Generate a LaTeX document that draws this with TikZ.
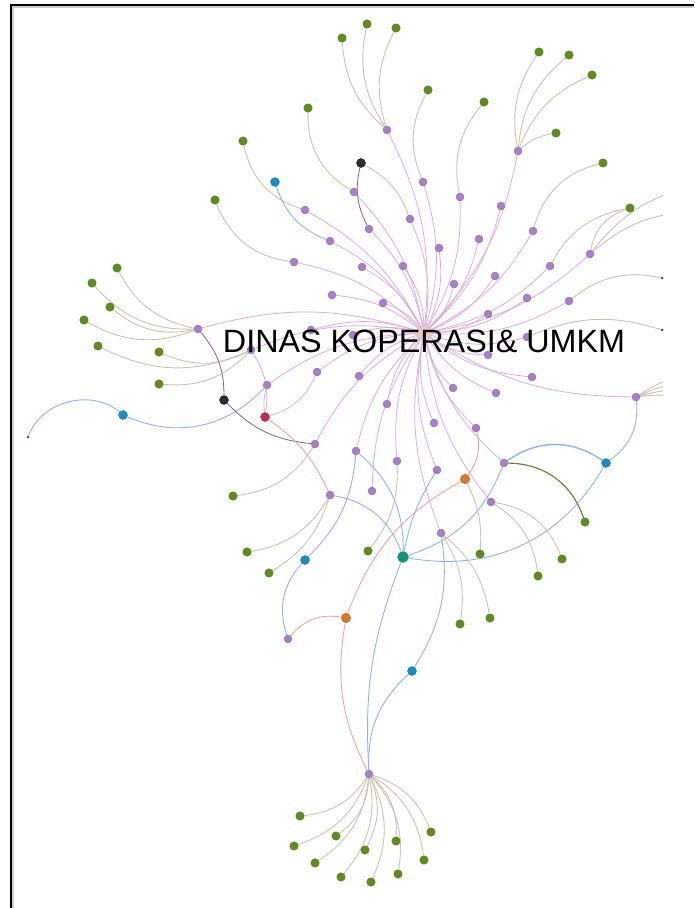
\documentclass[tikz,border=0pt]{standalone}
\usepackage{fontspec}
\setmainfont{Liberation Sans}
\pgfdeclarelayer{bg}
\pgfsetlayers{bg,main}
\definecolor{cpur}{RGB}{168,128,200}
\definecolor{cgrn}{RGB}{94,140,30}
\definecolor{cblu}{RGB}{30,140,190}
\definecolor{cblk}{RGB}{45,45,45}
\definecolor{cred}{RGB}{190,45,75}
\definecolor{corg}{RGB}{215,118,40}
\definecolor{ctea}{RGB}{25,150,120}
\definecolor{chub}{RGB}{232,200,192}
\definecolor{epk}{RGB}{220,170,220}
\definecolor{egr}{RGB}{196,196,176}
\definecolor{ebl}{RGB}{145,178,232}
\definecolor{erd}{RGB}{238,155,155}
\definecolor{edk}{RGB}{120,105,130}
\definecolor{eol}{RGB}{120,125,70}
\begin{document}
\begin{tikzpicture}[x=1pt,y=-1pt,
  dot/.style={circle,inner sep=0pt,minimum size=8pt,line width=0.3pt},
  np/.style={dot,fill=cpur,draw=cpur!80!black},
  ng/.style={dot,fill=cgrn,draw=cgrn!80!black,minimum size=8.5pt},
  nb/.style={dot,fill=cblu,draw=cblu!80!black,minimum size=9pt},
  nk/.style={dot,fill=cblk,draw=black,minimum size=9pt},
  nr/.style={dot,fill=cred,draw=cred!80!black,minimum size=9pt},
  no/.style={dot,fill=corg,draw=corg!80!black,minimum size=9.5pt},
  nt/.style={dot,fill=ctea,draw=ctea!80!black,minimum size=11pt},
  ntiny/.style={dot,fill=cblk,minimum size=2.5pt},
  epink/.style={draw=epk,line width=0.8pt},
  egray/.style={draw=egr,line width=0.9pt},
  eblue/.style={draw=ebl,line width=0.9pt},
  ered/.style={draw=erd,line width=0.8pt},
  edark/.style={draw=edk,line width=0.8pt},
  eolive/.style={draw=eol,line width=1.2pt}]
\useasboundingbox (0,0) rectangle (694,908);
% frame
\draw[line width=2pt,gray!40] (12.5,908) -- (12.5,6.5) -- (694,6.5);
\draw[line width=1.3pt,black] (11,908) -- (11,5) -- (694,5);

% hub
\node[dot,fill=chub,draw=chub!85!black,minimum size=15pt] (hub) at (424,333) {};
% top purples
\node[np] (p1) at (387,130) {};
\node[np] (p2) at (518,151) {};
\node[np] (p3) at (423,182) {};
\node[np] (p4) at (460,197) {};
\node[np] (p5) at (501,206) {};
\node[np] (p6) at (354,192) {};
\node[np] (p7) at (305,210) {};
\node[np] (p8) at (410,219) {};
\node[np] (p9) at (369,229) {};
\node[np] (p10) at (330,241) {};
\node[np] (p11) at (479,239) {};
\node[np] (p12) at (439,248) {};
\node[np] (p13) at (533,231) {};
\node[np] (p14) at (590,254) {};
\node[np] (p15) at (550,266) {};
\node[np] (p16) at (294,262) {};
\node[np] (p17) at (362,267) {};
\node[np] (p18) at (403,266) {};
\node[np] (p19) at (495,276) {};
\node[np] (p20) at (454,284) {};
\node[np] (p21) at (332,295) {};
\node[np] (p22) at (527,298) {};
\node[np] (p23) at (569,301) {};
% middle purples
\node[np] (q1) at (383,303) {};
\node[np] (q2) at (488,314) {};
\node[np] (q3) at (488,355) {};
\node[np] (q4) at (527,337) {};
\node[np] (q5) at (311,330) {};
\node[np] (q6) at (353,335) {};
\node[np] (qd) at (251,350) {};
\node[np] (pl) at (198,329) {};
\node[np] (q7) at (317,372) {};
\node[np] (q8) at (359,376) {};
\node[np] (q9) at (453,388) {};
\node[np] (q10) at (496,393) {};
\node[np] (q11) at (532,377) {};
\node[np] (q12) at (267,385) {};
\node[np] (q13) at (387,404) {};
\node[np] (q14) at (434,423) {};
\node[np] (q15) at (476,428) {};
\node[np] (q16) at (636,397) {};
\node[np] (q17) at (315,444) {};
\node[np] (q18) at (356,451) {};
\node[np] (q19) at (397,461) {};
\node[np] (q20) at (437,470) {};
\node[np] (q21) at (504,463) {};
\node[np] (q22) at (330,495) {};
\node[np] (q23) at (372,491) {};
\node[np] (q24) at (491,502) {};
\node[np] (q25) at (441,533) {};
\node[np] (r1) at (288,639) {};
\node[np] (bh) at (369,774) {};
% greens
\node[ng] (g1) at (342,38) {};
\node[ng] (g2) at (367,24) {};
\node[ng] (g3) at (396,28) {};
\node[ng] (g4) at (428,90) {};
\node[ng] (g5) at (484,102) {};
\node[ng] (g6) at (539,52) {};
\node[ng] (g7) at (569,55) {};
\node[ng] (g8) at (592,75) {};
\node[ng] (g9) at (556,133) {};
\node[ng] (g10) at (603,163) {};
\node[ng] (g11) at (630,208) {};
\node[ng] (g12) at (308,108) {};
\node[ng] (g13) at (243,141) {};
\node[ng] (g14) at (215,200) {};
\node[ng] (l1) at (117,268) {};
\node[ng] (l2) at (92,283) {};
\node[ng] (l3) at (110,307) {};
\node[ng] (l4) at (84,320) {};
\node[ng] (l5) at (98,346) {};
\node[ng] (l6) at (159,352) {};
\node[ng] (l7) at (159,384) {};
\node[ng] (m1) at (233,496) {};
\node[ng] (m2) at (247,552) {};
\node[ng] (m3) at (269,573) {};
\node[ng] (m4) at (368,551) {};
\node[ng] (m5) at (480,554) {};
\node[ng] (m6) at (585,522) {};
\node[ng] (m7) at (562,559) {};
\node[ng] (m8) at (538,576) {};
\node[ng] (m9) at (460,624) {};
\node[ng] (m10) at (490,618) {};
\node[ng] (b1) at (300,816) {};
\node[ng] (b2) at (294,846) {};
\node[ng] (b3) at (336,836) {};
\node[ng] (b4) at (315,863) {};
\node[ng] (b5) at (365,850) {};
\node[ng] (b6) at (341,877) {};
\node[ng] (b7) at (371,882) {};
\node[ng] (b8) at (396,841) {};
\node[ng] (b9) at (398,874) {};
\node[ng] (b10) at (424,860) {};
\node[ng] (b11) at (431,832) {};
% coloured
\node[nk] (kt) at (361,163) {};
\node[nb] (bt) at (275,182) {};
\node[nk] (k2) at (224,400) {};
\node[nb] (bl) at (123,415) {};
\node[ntiny] (tiny) at (28,437) {};
\node[nr] (rd) at (265,417) {};
\node[nb] (br) at (606,463) {};
\node[no] (or1) at (465,479) {};
\node[nt] (tl) at (403,557) {};
\node[nb] (bm) at (305,560) {};
\node[no] (or2) at (346,618) {};
\node[nb] (bb) at (412,671) {};
\node[ntiny] (x1) at (662,278) {};
\node[ntiny] (x2) at (662,330) {};
\coordinate (o1) at (700,185);
\coordinate (o2) at (700,212);
\coordinate (o3) at (700,372);
\coordinate (o4) at (700,382);
\coordinate (o5) at (700,392);
\coordinate (o6) at (700,402);

\begin{pgfonlayer}{bg}
\begin{scope}
\clip (11,5) rectangle (663,908);
% hub edges
\foreach \t in {p1,p2,p3,p4,p5,p6,p7,p8,p9,p10,p11,p12,p13,p14,p15,p16,p17,p18,p19,p20,p21,p22,p23,
  q1,q2,q3,q4,q5,q6,qd,pl,q7,q8,q9,q10,q11,q12,q13,q14,q15,q16,q17,q18,q19,q20,q21,q23,q24,q25}
  \draw[epink] (hub) to[bend right=16] (\t);
% green fans
\foreach \t in {g1,g2,g3} \draw[egray] (p1) to[bend left=22] (\t);
\foreach \t in {g6,g7,g8} \draw[egray] (p2) to[bend left=22] (\t);
\draw[egray] (p2) to[bend left=15] (g9);
\draw[egray] (p3) to[bend left=25] (g4);
\draw[egray] (p4) to[bend left=25] (g5);
\draw[egray] (p6) to[bend left=30] (g12);
\draw[egray] (p7) to[bend left=30] (g13);
\draw[egray] (p16) to[bend left=30] (g14);
\draw[egray] (p13) to[bend left=30] (g10);
\draw[egray] (p14) to[bend left=30] (g11);
\draw[egray] (p15) to[bend left=25] (g11);
\draw[egray] (p14) to[bend left=20] (o1);
\draw[egray] (p14) to[bend left=20] (o2);
\draw[egray] (p23) to[bend left=25] (x1);
\draw[egray] (q4) to[bend left=20] (x2);
\foreach \t in {o3,o4,o5,o6} \draw[egray] (q16) to[bend left=12] (\t);
\foreach \t in {l1,l2,l3,l4} \draw[egray] (pl) to[bend left=25] (\t);
\foreach \t in {l5,l6,l7} \draw[egray] (qd) to[bend left=25] (\t);
\foreach \t in {b1,b2,b3,b4,b5,b6,b7,b8,b9,b10,b11} \draw[egray] (bh) to[bend left=25] (\t);
% other edges
\draw[edark] (kt) to[bend right=20] (p9);
\draw[egray] (kt) to[bend left=20] (p8);
\draw[eblue] (bt) to[bend right=25] (p10);
\draw[eblue] (bl) to[bend right=55] (tiny);
\draw[eblue] (bl) to[bend right=35] (q12);
\draw[edark] (pl) to[bend left=20] (k2);
\draw[edark] (k2) to[bend right=20] (q17);
\draw[epink] (qd) to[bend left=20] (rd);
\draw[epink] (q12) to[bend right=10] (rd);
\draw[epink] (rd) to[bend right=25] (q7);
\draw[ered] (rd) to[bend left=15] (q22);
\draw[egray] (q17) to[bend left=25] (m1);
\draw[egray] (q22) to[bend left=25] (m2);
\draw[egray] (q22) to[bend left=20] (m3);
\draw[eblue] (bm) to[bend right=20] (q18);
\draw[eblue] (bm) to[bend right=30] (r1);
\draw[egray] (q19) to[bend left=20] (m4);
\draw[eblue] (tl) to[bend right=25] (q18);
\draw[eblue] (tl) to[bend left=10] (q20);
\draw[eblue] (tl) to[bend right=25] (q21);
\draw[eblue] (tl) to[bend right=35] (br);
\draw[eblue] (tl) to[bend right=30] (q22);
\draw[eblue] (tl) to[bend right=12] (bh);
\draw[ered] (or1) to[bend right=25] (q15);
\draw[ered] (or1) to[bend right=20] (or2);
\draw[egray] (or1) to[bend left=15] (m5);
\draw[egray] (q24) to[bend left=30] (m7);
\draw[egray] (q24) to[bend left=25] (m8);
\draw[eolive] (q21) to[bend left=35] (m6);
\draw[eblue] (br) to[bend right=30] (q16);
\draw[eblue,line width=1.4pt] (br) to[bend right=35] (q21);
\draw[egray] (q25) to[bend left=20] (m9);
\draw[egray] (q25) to[bend left=20] (m10);
\draw[ered] (or2) to[bend right=30] (r1);
\draw[ered] (or2) to[bend right=18] (bh);
\draw[eblue] (bh) to[bend left=25] (bb);
\draw[eblue] (bb) to[bend right=20] (q25);
\end{scope}
\end{pgfonlayer}

\node[anchor=base,inner sep=0pt,font=\fontsize{32.3}{34}\selectfont] (title) at (424,352) {DINAS KOPERASI\& UMKM};
\end{tikzpicture}
\end{document}
